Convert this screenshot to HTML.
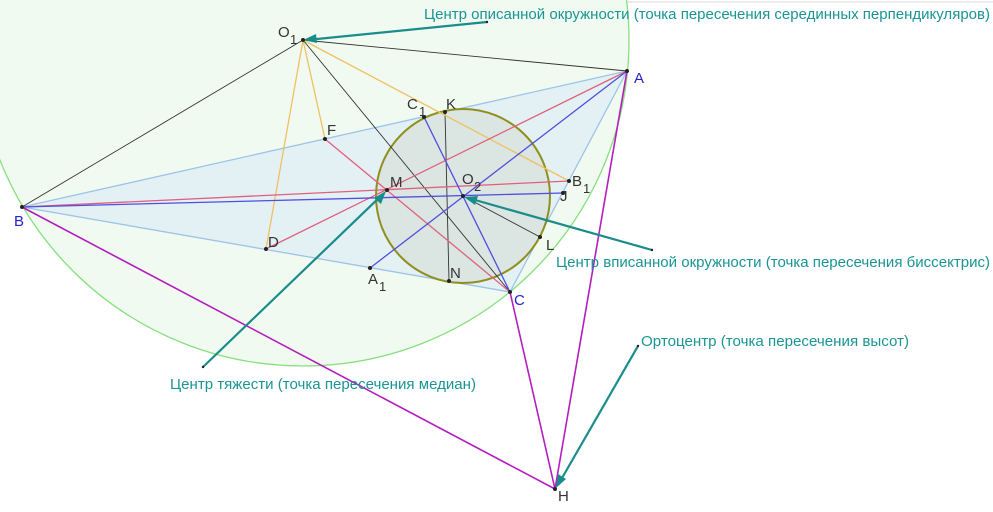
<!DOCTYPE html>
<html><head><meta charset="utf-8"><style>
html,body{margin:0;padding:0;background:#fff;}
svg{display:block;}
text{font-family:"Liberation Sans",sans-serif;}
</style></head><body>
<svg width="993" height="512" viewBox="0 0 993 512" xmlns="http://www.w3.org/2000/svg">
<rect width="993" height="512" fill="#fff"/>
<line x1="0" y1="2" x2="993" y2="2" stroke="#d8d8d8" stroke-width="1"/>
<circle cx="303" cy="40" r="326" fill="#f1faf1" stroke="#86e07e" stroke-width="1.3"/>
<polygon points="627,71 22,207 510,292" fill="#e2eff4" fill-opacity="0.85" stroke="#9cc4e8" stroke-width="1.3"/>
<circle cx="463" cy="196" r="87" fill="#d8e2dc" fill-opacity="0.8" stroke="#8f8f1e" stroke-width="2"/>
<g stroke="#333" stroke-width="0.9">
<line x1="303" y1="40" x2="627" y2="71"/>
<line x1="303" y1="40" x2="22" y2="207"/>
<line x1="303" y1="40" x2="510" y2="292"/>
<line x1="445" y1="112" x2="449" y2="281"/>
<line x1="463" y1="196" x2="540" y2="237"/>
</g>
<g stroke="#f0c060" stroke-width="1.3">
<line x1="303" y1="40" x2="266" y2="249"/>
<line x1="303" y1="40" x2="325" y2="139"/>
<line x1="303" y1="40" x2="569" y2="181"/>
</g>
<g stroke="#e0607e" stroke-width="1.3">
<line x1="627" y1="71" x2="266" y2="249"/>
<line x1="22" y1="207" x2="569" y2="181"/>
<line x1="510" y1="292" x2="325" y2="139"/>
</g>
<g stroke="#4f4fe0" stroke-width="1.3">
<line x1="627" y1="71" x2="370" y2="268"/>
<line x1="22" y1="207" x2="563" y2="193"/>
<line x1="510" y1="292" x2="424" y2="117"/>
</g>
<g stroke="#b41ebe" stroke-width="1.6">
<line x1="22" y1="207" x2="555" y2="489"/>
<line x1="627" y1="71" x2="555" y2="489"/>
<line x1="510" y1="292" x2="555" y2="489"/>
</g>
<g stroke="#1a8c8c" stroke-width="2.2">
<line x1="487" y1="22" x2="307" y2="40"/>
<line x1="652" y1="250" x2="468" y2="198"/>
<line x1="203" y1="367" x2="383" y2="194"/>
<line x1="638" y1="346" x2="558" y2="485"/>
</g>
<g fill="#1a8c8c">
<polygon points="303,40 316,34 317,43"/>
<polygon points="464,197 478,196 475,205"/>
<polygon points="386,191 381,204 374,198"/>
<polygon points="556,488 558,474 566,479"/>
</g>
<g fill="#222">
<circle cx="303" cy="40" r="2"/><circle cx="627" cy="71" r="2"/><circle cx="22" cy="207" r="2"/>
<circle cx="510" cy="292" r="2"/><circle cx="555" cy="489" r="2"/><circle cx="387" cy="190" r="2"/>
<circle cx="463" cy="196" r="2"/><circle cx="325" cy="139" r="2"/><circle cx="266" cy="249" r="2"/>
<circle cx="424" cy="117" r="2"/><circle cx="445" cy="112" r="2"/><circle cx="569" cy="181" r="2"/>
<circle cx="563" cy="193" r="2"/><circle cx="540" cy="237" r="2"/><circle cx="449" cy="281" r="2"/>
<circle cx="370" cy="268" r="2"/>
<circle cx="487" cy="22" r="1.2"/><circle cx="652" cy="250" r="1.2"/><circle cx="203" cy="367" r="1.2"/><circle cx="638" cy="346" r="1.2"/>
</g>
<g font-size="15" fill="#333">
<text x="278" y="37">O</text><text x="290" y="44" font-size="13">1</text>
<text x="327" y="135">F</text>
<text x="268" y="247">D</text>
<text x="407" y="109">C</text><text x="419" y="116" font-size="13">1</text>
<text x="446" y="109">K</text>
<text x="390" y="187">M</text>
<text x="462" y="184">O</text><text x="474" y="191" font-size="13">2</text>
<text x="572" y="186">B</text><text x="583" y="193" font-size="13">1</text>
<text x="560" y="201">J</text>
<text x="546" y="250">L</text>
<text x="450" y="278">N</text>
<text x="368" y="284">A</text><text x="379" y="291" font-size="13">1</text>
<text x="558" y="501">H</text>
</g>
<g font-size="15" fill="#2424c8">
<text x="634" y="83">A</text>
<text x="14" y="226">B</text>
<text x="514" y="305">C</text>
</g>
<g font-size="15" fill="#1a9494">
<text x="424" y="19" textLength="566" lengthAdjust="spacingAndGlyphs">Центр описанной окружности (точка пересечения серединных перпендикуляров)</text>
<text x="556" y="267" textLength="434" lengthAdjust="spacingAndGlyphs">Центр вписанной окружности (точка пересечения биссектрис)</text>
<text x="170" y="389" textLength="306" lengthAdjust="spacingAndGlyphs">Центр тяжести (точка пересечения медиан)</text>
<text x="641" y="346" textLength="268" lengthAdjust="spacingAndGlyphs">Ортоцентр (точка пересечения высот)</text>
</g>
</svg>
</body></html>
